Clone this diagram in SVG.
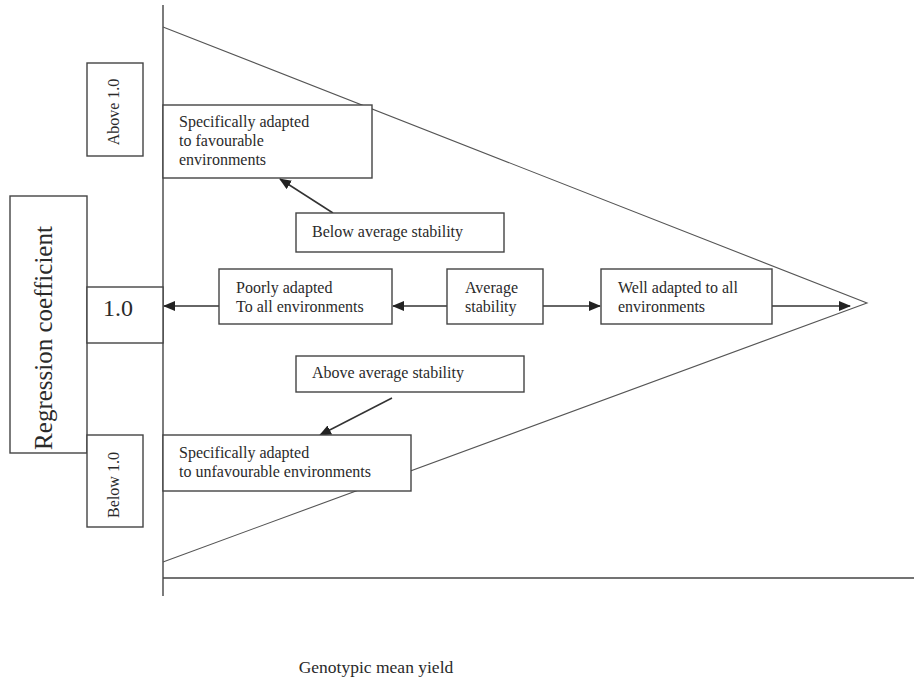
<svg xmlns="http://www.w3.org/2000/svg" width="914" height="681" viewBox="0 0 914 681">
<style>
.b{fill:#fff;stroke:#444;stroke-width:1.4}
.t{font-family:"Liberation Serif","Times New Roman",serif;font-size:16px;fill:#2a2a2a}
.ax{stroke:#444;stroke-width:1.4;fill:none}
.tri{stroke:#555;stroke-width:1.1;fill:none}
.c{stroke:#333;stroke-width:1.5;fill:none;marker-end:url(#ah)}
</style>
<defs>
<marker id="ah" markerWidth="12" markerHeight="10" refX="11" refY="5" orient="auto" markerUnits="userSpaceOnUse">
<path d="M0,0 L12,5 L0,10 Z" fill="#222"/>
</marker>
</defs>
<rect width="914" height="681" fill="#fff"/>
<g id="axes">
<line class="ax" x1="163" y1="5" x2="163" y2="596"/>
<line class="ax" x1="163" y1="578" x2="914" y2="578"/>
<polyline class="tri" points="163,27 867,303 163,562"/>
</g>
<g id="connectors">
<line class="c" x1="333" y1="213" x2="280" y2="179"/>
<line class="c" x1="219" y1="306" x2="164" y2="306"/>
<line class="c" x1="447" y1="306" x2="393" y2="306"/>
<line class="c" x1="543" y1="306" x2="600" y2="306"/>
<line class="c" x1="772" y1="306" x2="850" y2="306"/>
<line class="c" x1="392" y1="398" x2="320" y2="435"/>
</g>
<g id="regression">
<rect class="b" x="10" y="196" width="77" height="257"/>
<text class="t" style="font-size:25px" transform="translate(52,338) rotate(-90)" text-anchor="middle">Regression coefficient</text>
</g>
<g id="above10">
<rect class="b" x="87" y="63" width="56" height="93"/>
<text class="t" style="font-size:16px" transform="translate(119,112) rotate(-90)" text-anchor="middle">Above 1.0</text>
</g>
<g id="one">
<rect class="b" x="87" y="287" width="76" height="56"/>
<text class="t" style="font-size:24px" x="103" y="316">1.0</text>
</g>
<g id="below10">
<rect class="b" x="87" y="435" width="56" height="92"/>
<text class="t" style="font-size:16px" transform="translate(119,485) rotate(-90)" text-anchor="middle">Below 1.0</text>
</g>
<g id="favourable">
<rect class="b" x="163" y="105" width="209" height="73"/>
<text class="t" x="179" y="127">Specifically adapted</text>
<text class="t" x="179" y="146">to favourable</text>
<text class="t" x="179" y="165">environments</text>
</g>
<g id="belowavg">
<rect class="b" x="296" y="213" width="208" height="39"/>
<text class="t" x="312" y="237">Below average stability</text>
</g>
<g id="poorly">
<rect class="b" x="219" y="269" width="173" height="55"/>
<text class="t" x="236" y="293">Poorly adapted</text>
<text class="t" x="236" y="312">To all environments</text>
</g>
<g id="average">
<rect class="b" x="447" y="269" width="96" height="55"/>
<text class="t" x="465" y="293">Average</text>
<text class="t" x="465" y="312">stability</text>
</g>
<g id="well">
<rect class="b" x="601" y="269" width="171" height="55"/>
<text class="t" x="618" y="293">Well adapted to all</text>
<text class="t" x="618" y="312">environments</text>
</g>
<g id="aboveavg">
<rect class="b" x="296" y="356" width="228" height="36"/>
<text class="t" x="312" y="378">Above average stability</text>
</g>
<g id="unfavourable">
<rect class="b" x="163" y="435" width="248" height="56"/>
<text class="t" x="179" y="458">Specifically adapted</text>
<text class="t" x="179" y="477">to unfavourable environments</text>
</g>
<text class="t" style="font-size:17.5px" x="376" y="673" text-anchor="middle">Genotypic mean yield</text>
</svg>
